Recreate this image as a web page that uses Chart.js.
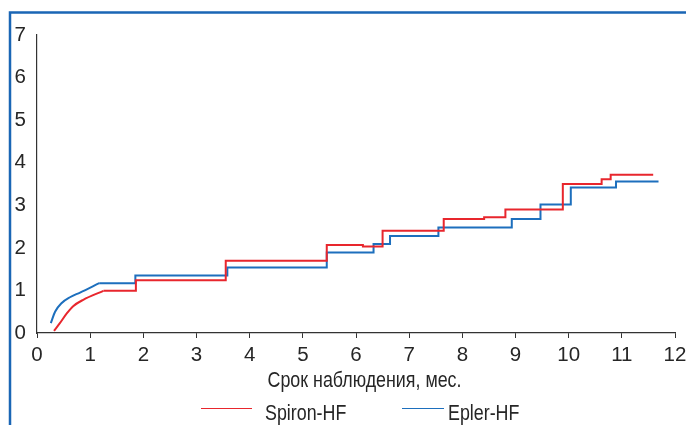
<!DOCTYPE html>
<html>
<head>
<meta charset="utf-8">
<script src="https://cdn.jsdelivr.net/npm/chart.js@4/dist/chart.umd.min.js"></script>
<style>
  html, body { margin: 0; padding: 0; background: #fff; }
  #wrap { position: relative; width: 686px; height: 425px; }
  canvas { display: block; }
</style>
</head>
<body>
<div id="wrap"><canvas id="c" width="686" height="425"></canvas></div>
<script>
// Cumulative event curves, months of follow-up vs. percent
const seriesNames = ['Spiron-HF', 'Epler-HF'];
const seriesColors = ['#e8262d', '#1d6fbd'];
const xTicks = [0, 1, 2, 3, 4, 5, 6, 7, 8, 9, 10, 11, 12];
const yTicks = [0, 1, 2, 3, 4, 5, 6, 7];
const xTitle = 'Срок наблюдения, мес.';

// Spiron-HF: early smooth rise, then step changes
const spironCurveX = [0.32, 0.43, 0.56, 0.68, 0.87, 1.25];
const spironCurveY = [0.05, 0.23, 0.46, 0.63, 0.78, 0.99];
const spironStepX = [1.25, 1.86, 3.55, 5.45, 6.13, 6.50, 7.65, 8.41, 8.81, 9.89, 10.62, 10.79, 11.59];
const spironStepY = [0.99, 1.24, 1.70, 2.07, 2.03, 2.40, 2.68, 2.72, 2.90, 3.50, 3.61, 3.72, 3.72];

// Epler-HF
const eplerCurveX = [0.26, 0.34, 0.46, 0.62, 0.81, 1.17];
const eplerCurveY = [0.23, 0.50, 0.70, 0.84, 0.95, 1.17];
const eplerStepX = [1.17, 1.85, 3.58, 5.45, 6.33, 6.64, 7.55, 8.93, 9.47, 10.04, 10.89, 11.69];
const eplerStepY = [1.17, 1.35, 1.54, 1.89, 2.09, 2.28, 2.48, 2.68, 3.02, 3.42, 3.56, 3.56];

const FONT = '"Liberation Sans", Arial, sans-serif';
const TEXT_COLOR = '#262626';
const toPts = (xs, ys) => xs.map((x, i) => ({ x, y: ys[i] }));

function lineSet(label, pts, color, stepped) {
  return {
    label, data: pts, borderColor: color, backgroundColor: color,
    borderWidth: 2, pointRadius: 0, fill: false,
    stepped: stepped ? 'before' : false,
    cubicInterpolationMode: stepped ? 'default' : 'monotone',
    tension: 0
  };
}

// Outer blue frame (left and top edges)
const framePlugin = {
  id: 'frame',
  beforeDraw(chart) {
    const ctx = chart.ctx;
    ctx.save();
    ctx.strokeStyle = '#1a66b5';
    ctx.lineWidth = 2.5;
    ctx.beginPath();
    ctx.moveTo(10, chart.height);
    ctx.lineTo(10, 12.5);
    ctx.lineTo(chart.width, 12.5);
    ctx.stroke();
    ctx.restore();
  }
};

// Condensed text: draw horizontally compressed at a given left x
function narrowText(ctx, text, x, y, squeeze, align) {
  const w = ctx.measureText(text).width * squeeze;
  const left = align === 'center' ? x - w / 2 : x;
  ctx.save();
  ctx.translate(left, y);
  ctx.scale(squeeze, 1);
  ctx.textAlign = 'left';
  ctx.fillText(text, 0, 0);
  ctx.restore();
}

// Axis caption and legend below the chart
const captionPlugin = {
  id: 'caption',
  afterDraw(chart) {
    const ctx = chart.ctx;
    ctx.save();
    ctx.fillStyle = TEXT_COLOR;
    ctx.font = '21.5px ' + FONT;
    ctx.textBaseline = 'alphabetic';
    const squeeze = 0.83;
    narrowText(ctx, xTitle, 364.5, 386.5, squeeze, 'center');

    const items = [
      { name: seriesNames[0], color: seriesColors[0], x0: 201, x1: 252, tx: 265 },
      { name: seriesNames[1], color: seriesColors[1], x0: 402, x1: 444, tx: 448 }
    ];
    items.forEach(it => {
      ctx.strokeStyle = it.color;
      ctx.lineWidth = 1.2;
      ctx.beginPath();
      ctx.moveTo(it.x0, 408.5);
      ctx.lineTo(it.x1, 408.5);
      ctx.stroke();
      narrowText(ctx, it.name, it.tx, 420, squeeze, 'left');
    });
    ctx.restore();
  }
};

new Chart(document.getElementById('c'), {
  type: 'line',
  data: {
    datasets: [
      lineSet(seriesNames[0], toPts(spironCurveX, spironCurveY), seriesColors[0], false),
      lineSet(seriesNames[0], toPts(spironStepX, spironStepY), seriesColors[0], true),
      lineSet(seriesNames[1], toPts(eplerCurveX, eplerCurveY), seriesColors[1], false),
      lineSet(seriesNames[1], toPts(eplerStepX, eplerStepY), seriesColors[1], true)
    ]
  },
  options: {
    responsive: false,
    animation: false,
    devicePixelRatio: 1,
    layout: { padding: { top: 35, right: 0, bottom: 0, left: 0 } },
    plugins: { legend: { display: false }, tooltip: { enabled: false } },
    scales: {
      x: {
        type: 'linear', min: 0, max: 12,
        afterFit: s => { s.height = 92; s.paddingRight = 11; },
        afterBuildTicks: s => { s.ticks = xTicks.map(v => ({ value: v })); },
        grid: { drawOnChartArea: false, drawTicks: true, tickLength: 5, color: '#333', lineWidth: 1 },
        border: { display: true, color: '#333', width: 1.2 },
        ticks: { color: TEXT_COLOR, font: { family: FONT, size: 20.5 }, padding: 5, maxRotation: 0, autoSkip: false }
      },
      y: {
        min: 0, max: 7,
        afterFit: s => { s.width = 37; },
        afterBuildTicks: s => { s.ticks = yTicks.map(v => ({ value: v })); },
        grid: { display: false, drawTicks: false },
        border: { display: true, color: '#333', width: 1.2 },
        ticks: { color: TEXT_COLOR, font: { family: FONT, size: 20.5 }, padding: 11 }
      }
    }
  },
  plugins: [framePlugin, captionPlugin]
});
</script>
</body>
</html>
